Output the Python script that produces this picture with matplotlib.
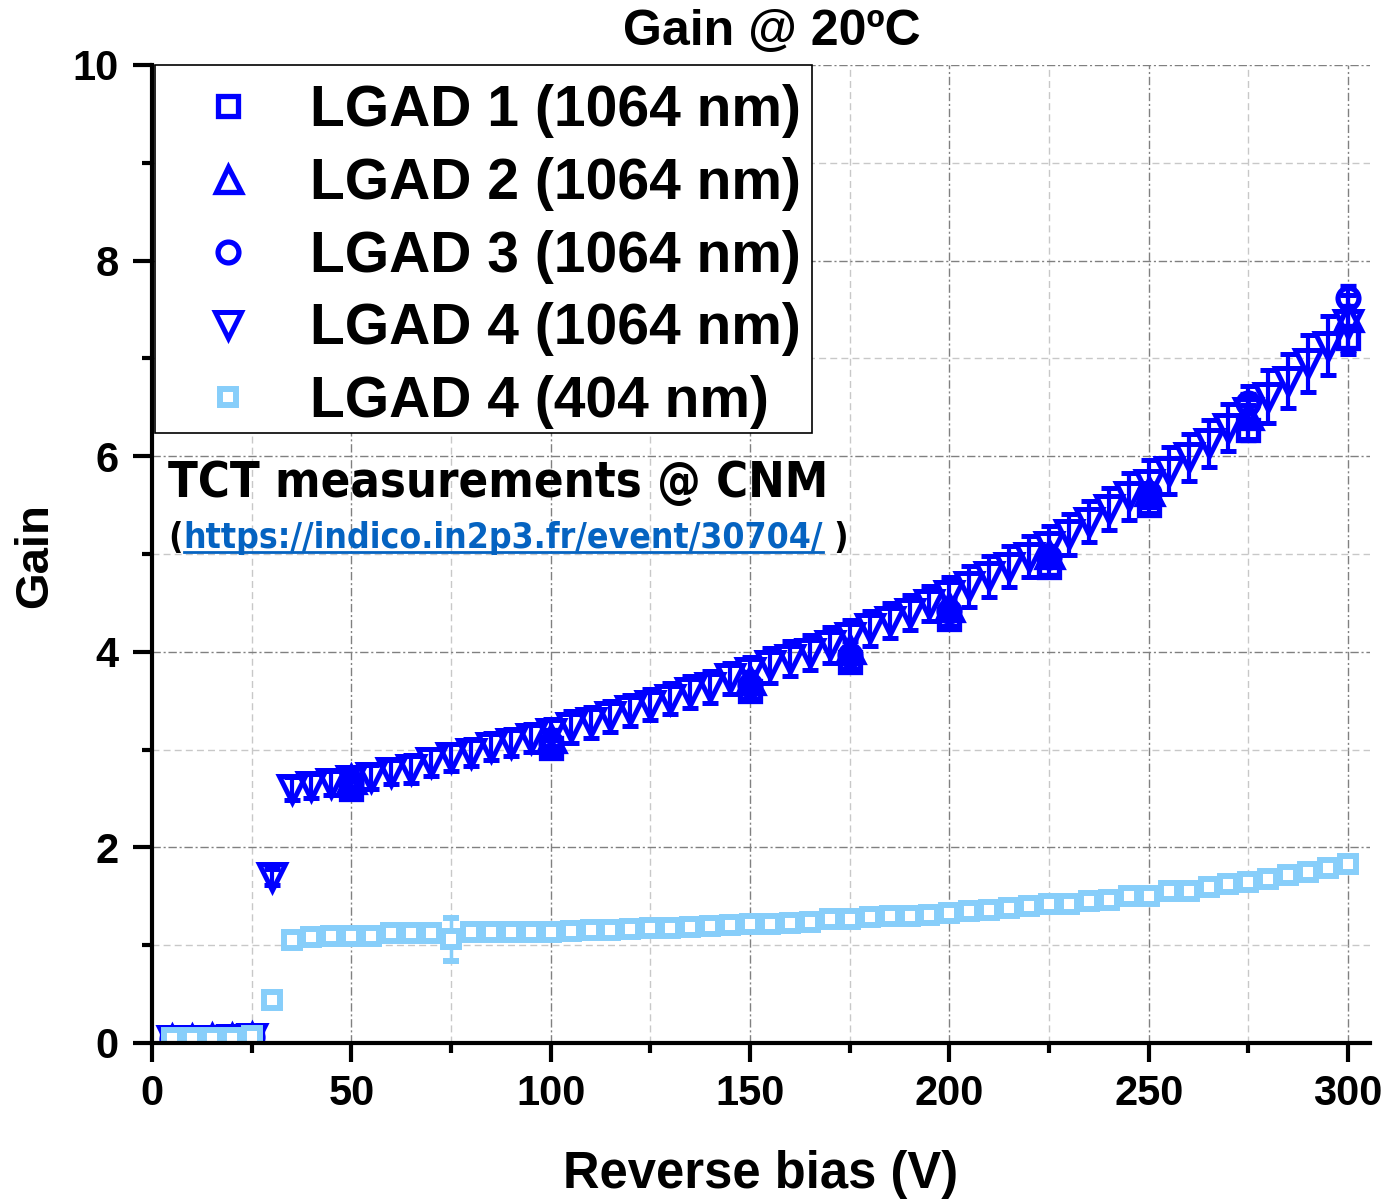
import matplotlib
matplotlib.use('Agg')
import matplotlib.pyplot as plt
from matplotlib.lines import Line2D
from matplotlib.patches import Rectangle
from matplotlib.ticker import MultipleLocator

# ---------------- data ----------------
v_l4 = [5, 10, 15, 20, 25, 30, 35, 40, 45, 50, 55, 60, 65, 70, 75, 80, 85, 90, 95, 100,
        105, 110, 115, 120, 125, 130, 135, 140, 145, 150, 155, 160, 165, 170, 175, 180,
        185, 190, 195, 200, 205, 210, 215, 220, 225, 230, 235, 240, 245, 250, 255, 260,
        265, 270, 275, 280, 285, 290, 295, 300]
g_l4 = [0.03, 0.03, 0.03, 0.04, 0.05, 1.70,
        2.60, 2.63, 2.66, 2.69, 2.72, 2.77, 2.80, 2.87, 2.92, 2.97, 3.03, 3.07, 3.12, 3.17,
        3.23, 3.28, 3.34, 3.40, 3.46, 3.52, 3.59, 3.64, 3.73, 3.79, 3.86, 3.93, 3.99, 4.07,
        4.15, 4.24, 4.32, 4.40, 4.49, 4.58, 4.67, 4.77, 4.87, 4.97, 5.08, 5.20, 5.33, 5.46,
        5.59, 5.72, 5.85, 5.99, 6.13, 6.29, 6.45, 6.61, 6.77, 6.95, 7.13, 7.35]
e_l4 = [0.02, 0.02, 0.02, 0.02, 0.02, 0.08,
        0.12, 0.12, 0.12, 0.12, 0.12, 0.12, 0.14, 0.14, 0.14, 0.14, 0.14, 0.14, 0.14, 0.14,
        0.16, 0.16, 0.16, 0.16, 0.16, 0.16, 0.16, 0.16, 0.16, 0.16, 0.18, 0.18, 0.18, 0.18,
        0.18, 0.18, 0.18, 0.18, 0.18, 0.18, 0.21, 0.21, 0.21, 0.21, 0.21, 0.21, 0.21, 0.21,
        0.24, 0.24, 0.24, 0.24, 0.24, 0.24, 0.27, 0.27, 0.28, 0.29, 0.30, 0.30]

v_l404 = v_l4
g_l404 = [0.05, 0.05, 0.05, 0.05, 0.07, 0.44,
          1.05, 1.08, 1.09, 1.09, 1.09, 1.12, 1.12, 1.12, 1.06, 1.13, 1.13, 1.14, 1.14, 1.13,
          1.15, 1.16, 1.16, 1.17, 1.18, 1.18, 1.19, 1.20, 1.21, 1.22, 1.22, 1.23, 1.24, 1.27,
          1.27, 1.29, 1.30, 1.30, 1.31, 1.33, 1.35, 1.36, 1.38, 1.40, 1.42, 1.42, 1.45, 1.46,
          1.50, 1.50, 1.55, 1.55, 1.60, 1.63, 1.65, 1.68, 1.72, 1.75, 1.79, 1.83]
e_l404 = [0.02, 0.02, 0.02, 0.02, 0.02, 0.02,
          0.01, 0.01, 0.01, 0.01, 0.01, 0.01, 0.01, 0.01, 0.22, 0.01, 0.01, 0.01, 0.01, 0.01,
          0.01, 0.01, 0.01, 0.01, 0.01, 0.01, 0.01, 0.01, 0.01, 0.01, 0.01, 0.01, 0.01, 0.01,
          0.01, 0.01, 0.01, 0.01, 0.01, 0.01, 0.01, 0.01, 0.01, 0.01, 0.01, 0.01, 0.01, 0.01,
          0.01, 0.01, 0.01, 0.01, 0.01, 0.01, 0.01, 0.01, 0.01, 0.01, 0.01, 0.01]

v_lx = [5, 10, 15, 20, 25, 50, 100, 150, 175, 200, 225, 250, 275, 300]
g_l1 = [0.04, 0.04, 0.05, 0.05, 0.06, 2.60, 3.02, 3.60, 3.90, 4.34, 4.87, 5.50, 6.27, 7.21]
g_l2 = [0.04, 0.04, 0.05, 0.05, 0.06, 2.70, 3.12, 3.71, 4.03, 4.46, 5.00, 5.64, 6.42, 7.42]
g_l3 = [0.04, 0.04, 0.05, 0.05, 0.06, 2.66, 3.07, 3.66, 3.97, 4.42, 4.97, 5.62, 6.54, 7.62]
e_lx = [0.02, 0.02, 0.02, 0.02, 0.02, 0.08, 0.08, 0.08, 0.08, 0.08, 0.08, 0.08, 0.10, 0.12]

labels = ['LGAD 1 (1064 nm)', 'LGAD 2 (1064 nm)', 'LGAD 3 (1064 nm)',
          'LGAD 4 (1064 nm)', 'LGAD 4 (404 nm)']
x_ticks = [0, 50, 100, 150, 200, 250, 300]
y_ticks = [0, 2, 4, 6, 8, 10]

# ---------------- style ----------------
plt.rcParams['font.family'] = ['Liberation Sans', 'DejaVu Sans']
plt.rcParams['font.weight'] = 'bold'

W, H = 1385, 1199
fig = plt.figure(figsize=(W / 100, H / 100), dpi=100)
ax = fig.add_axes([152 / W, 1 - 1043 / H, (1370 - 152) / W, (1043 - 65) / H])

DARK = '#0000FF'
LIGHT = '#87CEFA'

eb_kw = dict(linestyle='none', elinewidth=3, capsize=6, capthick=3)

c4 = ax.errorbar(v_l4, g_l4, yerr=e_l4, fmt='v', ms=19, mew=3.6, mfc='none',
                 mec=DARK, ecolor=DARK, color=DARK, zorder=3, **eb_kw)
c1 = ax.errorbar(v_lx, g_l1, yerr=e_lx, fmt='s', ms=14, mew=3.8, mfc='none',
                 mec=DARK, ecolor=DARK, color=DARK, zorder=4, **eb_kw)
c2 = ax.errorbar(v_lx, g_l2, yerr=e_lx, fmt='^', ms=18, mew=3.8, mfc='none',
                 mec=DARK, ecolor=DARK, color=DARK, zorder=4, **eb_kw)
c3 = ax.errorbar(v_lx, g_l3, yerr=e_lx, fmt='o', ms=15, mew=3.8, mfc='none',
                 mec=DARK, ecolor=DARK, color=DARK, zorder=4, **eb_kw)
c5 = ax.errorbar(v_l404, g_l404, yerr=e_l404, fmt='s', ms=11, mew=4.3, mfc='white',
                 mec=LIGHT, ecolor=LIGHT, color=LIGHT, zorder=5,
                 linestyle='none', elinewidth=2.5, capsize=6, capthick=2.5)

ax.set_xlim(0, 305.5)
ax.set_ylim(0, 10)
ax.set_xticks(x_ticks)
ax.set_yticks(y_ticks)
ax.xaxis.set_minor_locator(MultipleLocator(25))
ax.yaxis.set_minor_locator(MultipleLocator(1))

ax.set_axisbelow(True)
ax.grid(which='major', color='#808080', lw=1.0, linestyle=(0, (6, 2, 1.5, 2)))
ax.grid(which='minor', color='#c8c8c8', lw=1.0, linestyle=(0, (5, 3)))

for s in ['top', 'right']:
    ax.spines[s].set_visible(False)
for s in ['left', 'bottom']:
    ax.spines[s].set_linewidth(3)
    ax.spines[s].set_zorder(6)

ax.tick_params(which='major', direction='out', length=14, width=3, labelsize=30, pad=8)
ax.tick_params(which='minor', direction='out', length=7, width=3)
ax.tick_params(axis='y', which='major', pad=10)
for lab in ax.get_xticklabels() + ax.get_yticklabels():
    lab.set_fontweight('bold')

leg = ax.legend([c1[0], c2[0], c3[0], c4[0], c5[0]], labels, loc='upper left',
                bbox_to_anchor=(3 / 1218, 1 - 10 / 978), borderaxespad=0, frameon=False,
                borderpad=0.16, handlelength=2.25, handletextpad=0.32,
                labelspacing=0.33, numpoints=1,
                prop=dict(family='Liberation Sans', weight='bold', size=41))
leg.set_zorder(10)
ax.add_patch(Rectangle((155 / W, 1 - 433 / H), (812 - 155) / W, (433 - 65) / H,
                       transform=fig.transFigure, facecolor='white', edgecolor='black',
                       lw=1.2, zorder=9, clip_on=False))

# titles / labels
fig.text(772 / W, 1 - 45 / H, 'Gain @ 20ºC', ha='center', va='baseline',
         fontsize=36, fontweight='bold')
fig.text(761 / W, 1 - 1188 / H, 'Reverse bias (V)', ha='center', va='baseline',
         fontsize=36.5, fontweight='bold')
fig.text(35 / W, 1 - 556 / H, 'Gain', ha='center', va='center', rotation=90,
         fontsize=34, fontweight='bold')

# annotation
tfam = dict(family=['DejaVu Sans'], fontstretch='condensed', fontweight='bold')
fig.text(168 / W, 1 - 497 / H, 'TCT measurements @ CNM', ha='left', va='baseline',
         fontsize=35, color='black', **tfam)

fig.canvas.draw()
r = fig.canvas.get_renderer()
t1 = fig.text(168 / W, 1 - 548 / H, '(', ha='left', va='baseline', fontsize=25.5,
              color='black', **tfam)
bb1 = t1.get_window_extent(renderer=r)
t2 = fig.text((bb1.x1 + 1) / W, 1 - 548 / H, 'https://indico.in2p3.fr/event/30704/',
              ha='left', va='baseline', fontsize=25.5, color='#0563C1', **tfam)
bb2 = t2.get_window_extent(renderer=r)
fig.add_artist(Line2D([bb2.x0 / W, bb2.x1 / W], [1 - 552 / H, 1 - 552 / H],
                      transform=fig.transFigure, color='#0563C1', lw=2))
fig.text((bb2.x1) / W, 1 - 548 / H, ' )', ha='left', va='baseline', fontsize=25.5,
         color='black', **tfam)

fig.savefig('out.png', dpi=100)
